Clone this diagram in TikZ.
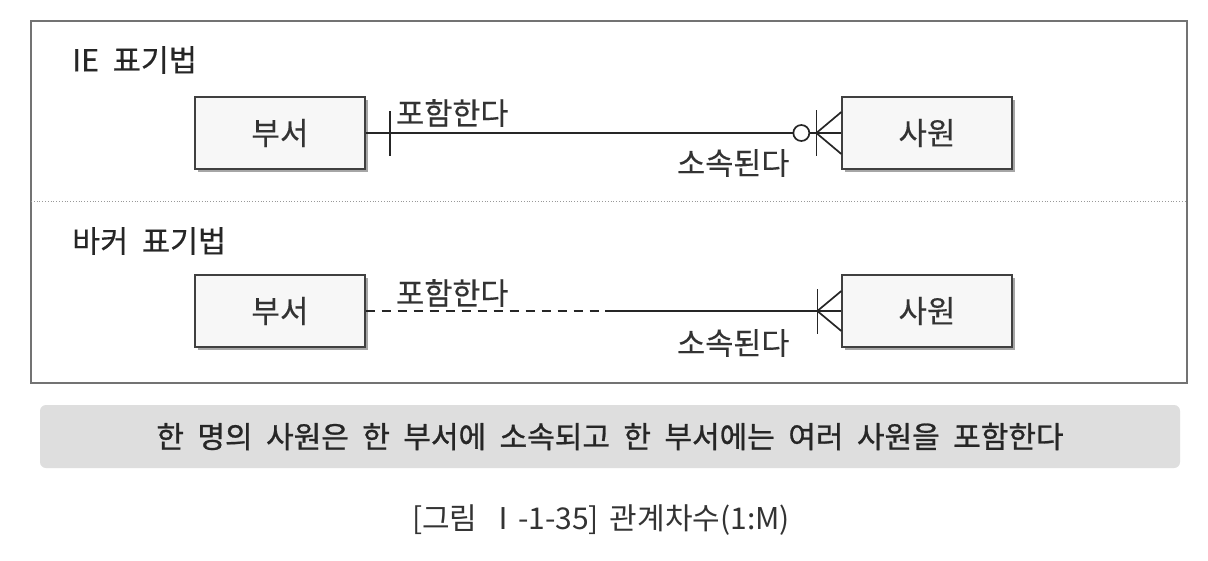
\documentclass[tikz,border=0pt]{standalone}
\usepackage{fontspec}
\setmainfont{Noto Sans CJK KR}[FakeBold=0.3]
\newfontfamily\titlefont{Noto Sans CJK KR}[FakeBold=0.3, WordSpace=2]
\newfontfamily\bandfont{Noto Sans CJK KR}[FakeBold=0.9, WordSpace=2]
\newfontfamily\capfont{Noto Sans CJK KR}[WordSpace=1.6]
\usetikzlibrary{shadows,calc}
\begin{document}
\begin{tikzpicture}[x=1pt,y=-1pt,
  ent/.style={draw=black!75, line width=1.3pt, fill=black!3, minimum width=170pt, minimum height=72pt, inner sep=0pt,
    font=\fontsize{31}{34}\selectfont, text=black!80,
    drop shadow={shadow xshift=3pt, shadow yshift=-3pt, fill=black!35, opacity=1}},
  lbl/.style={font=\fontsize{30.5}{34}\selectfont, text=black!80, inner sep=0pt, anchor=west},
  ttl/.style={font=\titlefont\fontsize{30.5}{34}\selectfont, text=black!85, inner sep=0pt, anchor=west},
  rel/.style={draw=black!85, line width=1.7pt},
  frame/.style={draw=black!55, line width=1.5pt}
]
\useasboundingbox (0,0) rectangle (1208,560);
\fill[white] (0,0) rectangle (1208,560);
% frame
\draw[frame] (31,21) rectangle (1187,383);
\draw[black!40, dotted, line width=0.8pt] (31,201) -- (1187,201);
% titles
\node[ttl] (t1) at (72,60) {IE 표기법};
\node[ttl] (t2) at (72,241) {바커 표기법};
% IE
\node[ent] (deptA) at (280,133) {부서};
\node[ent] (empA) at (927,133) {사원};
\draw[rel] (deptA.east) -- (empA.west);
\draw[rel] ($(deptA.east)+(24,-22)$) -- ($(deptA.east)+(24,23)$);
\draw[rel] ($(empA.west)+(-25,-23)$) -- ($(empA.west)+(-25,23)$);
\draw[rel] ($(empA.west)+(-25,0)$) -- ($(empA.west)+(0,-21)$);
\draw[rel] ($(empA.west)+(-25,0)$) -- ($(empA.west)+(0,21)$);
\draw[rel, fill=white] ($(empA.west)+(-40,0)$) circle (8);
\node[lbl] (a1) at (396,113) {포함한다};
\node[lbl] (a2) at (677,163) {소속된다};
% Barker
\node[ent] (deptB) at (280,311) {부서};
\node[ent] (empB) at (927,311) {사원};
\coordinate (mid) at (605,311);
\draw[rel, dash pattern=on 9pt off 7pt] (deptB.east) -- (mid);
\draw[rel] (mid) -- (empB.west);
\draw[rel] ($(empB.west)+(-24,-22)$) -- ($(empB.west)+(-24,23)$);
\draw[rel] ($(empB.west)+(-24,0)$) -- ($(empB.west)+(0,-20)$);
\draw[rel] ($(empB.west)+(-24,0)$) -- ($(empB.west)+(0,20)$);
\node[lbl] (b1) at (396,293) {포함한다};
\node[lbl] (b2) at (677,343) {소속된다};
% summary band
\node[fill=black!13, rounded corners=6pt, minimum width=1140pt, minimum height=63pt, inner sep=0pt,
  font=\bandfont\fontsize{30}{34}\selectfont, text=black!85] (band) at (610,436.5) {한 명의 사원은 한 부서에 소속되고 한 부서에는 여러 사원을 포함한다};
% caption
\node[font=\capfont\fontsize{30}{34}\selectfont, text=black!80, inner sep=0pt] (cap) at (601,520) {[그림 Ⅰ-1-35] 관계차수(1:M)};
\end{tikzpicture}
\end{document}
